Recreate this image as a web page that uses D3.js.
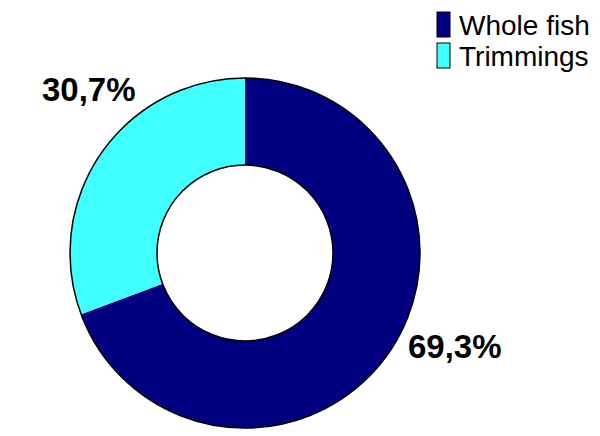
<!DOCTYPE html>
<html>
<head>
<meta charset="utf-8">
<script src="https://cdn.jsdelivr.net/npm/d3@7"></script>
<style>
  body { margin: 0; background: #fff; }
  svg { display: block; font-family: "Liberation Sans", Arial, sans-serif; }
</style>
</head>
<body>
<div id="chart"></div>
<script>
const categories = ["Whole fish", "Trimmings"]
const values = [69.3, 30.7]
const valueLabels = ["69,3%", "30,7%"]
const colors = ["#000080", "#40FFFF"]

const width = 600, height = 436
const cx = 245, cy = 253, outerR = 175, innerR = 88

const svg = d3.select("#chart").append("svg")
    .attr("width", width)
    .attr("height", height)

const pie = d3.pie().sort(null).value(d => d)
const arcs = pie(values)
const arc = d3.arc().innerRadius(innerR).outerRadius(outerR)

const g = svg.append("g").attr("transform", `translate(${cx},${cy})`)

g.selectAll("path.slice")
    .data(arcs)
    .join("path")
    .attr("class", "slice")
    .attr("d", arc)
    .attr("fill", (d, i) => colors[i])

// outline only on the outer and inner edges
g.append("circle").attr("r", outerR).attr("fill", "none").attr("stroke", "#000").attr("stroke-width", 1.5)
g.append("circle").attr("r", innerR).attr("fill", "none").attr("stroke", "#000").attr("stroke-width", 1.5)

// value labels, placed outside the ring
const labelPos = [[cx + 163, 358], [cx - 203, 101]]
svg.selectAll("text.value")
    .data(valueLabels)
    .join("text")
    .attr("class", "value")
    .attr("x", (d, i) => labelPos[i][0])
    .attr("y", (d, i) => labelPos[i][1])
    .attr("font-size", 33)
    .attr("font-weight", "bold")
    .text(d => d)

// legend
const legend = svg.append("g").attr("transform", "translate(437,12)")
const item = legend.selectAll("g")
    .data(categories)
    .join("g")
    .attr("transform", (d, i) => `translate(0,${i * 31})`)

item.append("rect")
    .attr("width", 13)
    .attr("height", 25)
    .attr("fill", (d, i) => colors[i])
    .attr("stroke", "#000")
    .attr("stroke-width", 1)

item.append("text")
    .attr("x", 22)
    .attr("y", 23)
    .attr("font-size", 28)
    .text(d => d)
</script>
</body>
</html>
